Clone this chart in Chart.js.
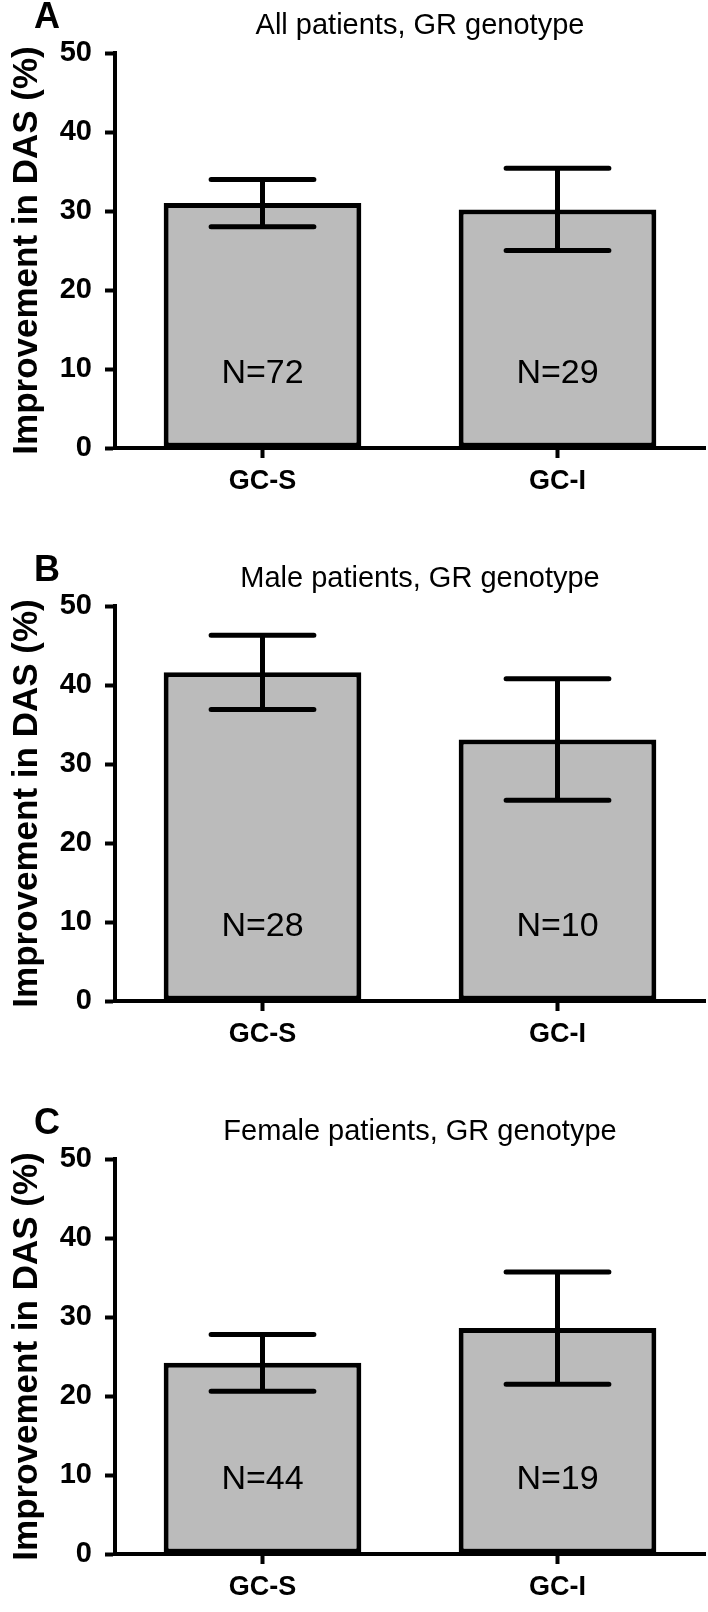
<!DOCTYPE html>
<html>
<head>
<meta charset="utf-8">
<title>Improvement in DAS by GR genotype</title>
<script src="https://cdn.jsdelivr.net/npm/chart.js@4.4.1/dist/chart.umd.min.js"></script>
<style>
    html, body { margin: 0; padding: 0; background: #fff; }
    .panel { position: absolute; left: 0; width: 708px; height: 506px; }
</style>
</head>
<body>
<div class="panel" style="top:0px"><canvas id="chartA" width="708" height="506"></canvas></div>
<div class="panel" style="top:553px"><canvas id="chartB" width="708" height="506"></canvas></div>
<div class="panel" style="top:1106px"><canvas id="chartC" width="708" height="506"></canvas></div>
<script>
// data
var categories = ['GC-S', 'GC-I'];
var yTicks = [0, 10, 20, 30, 40, 50];

var meansAll = [31.0, 30.2];
var errAll = [3.0, 5.2];
var nAll = [72, 29];

var meansMale = [41.6, 33.1];
var errMale = [4.7, 7.7];
var nMale = [28, 10];

var meansFemale = [24.2, 28.6];
var errFemale = [3.6, 7.1];
var nFemale = [44, 19];

var nLabelLevel = 9.4; // N= text sits around this y value
var fontFam = '"Liberation Sans", Arial, sans-serif';

// error bars + N labels, placed through the y scale
var errorBarPlugin = {
    id: 'errorBars',
    afterDatasetsDraw: function (chart) {
        var opts = chart.options.plugins.errorBars;
        var ctx = chart.ctx;
        var y = chart.scales.y;
        var meta = chart.getDatasetMeta(0);
        var values = chart.data.datasets[0].data;
        meta.data.forEach(function (bar, i) {
            var hi = y.getPixelForValue(values[i] + opts.errors[i]);
            var lo = y.getPixelForValue(values[i] - opts.errors[i]);
            var half = bar.width * 0.26;
            ctx.save();
            ctx.strokeStyle = '#000';
            ctx.lineWidth = 5;
            ctx.lineCap = 'butt';
            ctx.beginPath();
            ctx.moveTo(bar.x, hi);
            ctx.lineTo(bar.x, lo);
            ctx.stroke();
            ctx.lineCap = 'round';
            ctx.beginPath();
            ctx.moveTo(bar.x - half, hi);
            ctx.lineTo(bar.x + half, hi);
            ctx.moveTo(bar.x - half, lo);
            ctx.lineTo(bar.x + half, lo);
            ctx.stroke();

            ctx.fillStyle = '#000';
            ctx.font = '34px ' + fontFam;
            ctx.textAlign = 'center';
            ctx.textBaseline = 'middle';
            ctx.fillText('N=' + opts.counts[i], bar.x, y.getPixelForValue(nLabelLevel));
            ctx.restore();
        });
    }
};

// panel letter and heading
var panelTextPlugin = {
    id: 'panelText',
    afterDraw: function (chart) {
        var opts = chart.options.plugins.panelText;
        var ctx = chart.ctx;
        ctx.save();
        ctx.fillStyle = '#000';
        ctx.textBaseline = 'middle';
        ctx.textAlign = 'center';
        ctx.font = 'bold 36px ' + fontFam;
        ctx.fillText(opts.letter, 47, 18);
        ctx.font = '29px ' + fontFam;
        ctx.fillText(opts.title, 420, 26);
        ctx.restore();
    }
};

function makePanel(canvasId, letter, title, means, errs, counts) {
    var ctx = document.getElementById(canvasId).getContext('2d');
    return new Chart(ctx, {
        type: 'bar',
        data: {
            labels: categories,
            datasets: [{
                data: means,
                backgroundColor: '#bbbbbb',
                borderColor: '#000000',
                borderWidth: 5,
                borderSkipped: false,
                barPercentage: 0.67,
                categoryPercentage: 1.0
            }]
        },
        options: {
            responsive: false,
            animation: false,
            layout: { padding: { top: 53, right: 3, left: 0, bottom: 0 } },
            plugins: {
                legend: { display: false },
                tooltip: { enabled: false },
                errorBars: { errors: errs, counts: counts },
                panelText: { letter: letter, title: title }
            },
            scales: {
                x: {
                    offset: true,
                    grid: {
                        display: true,
                        offset: false,
                        drawOnChartArea: false,
                        drawTicks: true,
                        tickLength: 10,
                        tickWidth: 4,
                        color: '#000'
                    },
                    border: { display: true, color: '#000', width: 4 },
                    ticks: {
                        color: '#000',
                        padding: 7,
                        font: { family: fontFam, size: 27, weight: 'bold' }
                    },
                    afterFit: function (scale) { scale.height = 58; }
                },
                y: {
                    min: 0,
                    max: 50,
                    afterBuildTicks: function (scale) {
                        scale.ticks = yTicks.map(function (v) { return { value: v }; });
                    },
                    grid: {
                        display: true,
                        drawOnChartArea: false,
                        drawTicks: true,
                        tickLength: 10,
                        tickWidth: 4,
                        color: '#000'
                    },
                    border: { display: true, color: '#000', width: 4 },
                    ticks: {
                        color: '#000',
                        padding: 13,
                        font: { family: fontFam, size: 29, weight: 'bold' }
                    },
                    title: {
                        display: true,
                        text: 'Improvement in DAS (%)',
                        color: '#000',
                        padding: { top: 6, bottom: 0 },
                        font: { family: fontFam, size: 35, weight: 'bold' }
                    },
                    afterFit: function (scale) { scale.width = 115; }
                }
            }
        },
        plugins: [errorBarPlugin, panelTextPlugin]
    });
}

makePanel('chartA', 'A', 'All patients, GR genotype', meansAll, errAll, nAll);
makePanel('chartB', 'B', 'Male patients, GR genotype', meansMale, errMale, nMale);
makePanel('chartC', 'C', 'Female patients, GR genotype', meansFemale, errFemale, nFemale);
</script>
</body>
</html>
